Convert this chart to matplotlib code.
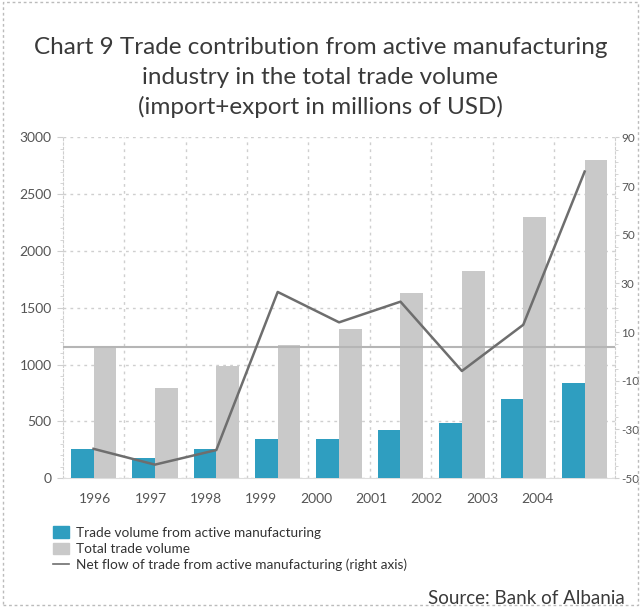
import numpy as np
import matplotlib
matplotlib.use("Agg")
import matplotlib.pyplot as plt
from matplotlib.lines import Line2D
from matplotlib.patches import Patch, Rectangle

years = ["1996", "1997", "1998", "1999", "2000", "2001", "2002", "2003", "2004"]
manufacturing = [260, 175, 260, 345, 345, 425, 485, 695, 840]
total_trade = [1160, 795, 990, 1175, 1315, 1630, 1825, 2300, 2800]
net_flow = [-38, -44.5, -38.5, 26.5, 14, 22.5, -6, 13, 76]

left_ticks = [0, 500, 1000, 1500, 2000, 2500, 3000]
right_ticks = [-50, -30, -10, 10, 30, 50, 70, 90]
ref_level = 4

BLUE = "#2F9EC0"
GREY_BAR = "#C9C9C9"
LINE = "#6E6E6E"
GRID = "#CFCFCF"
TEXT = "#555555"

plt.rcParams["font.family"] = ["Lato", "DejaVu Sans"]
plt.rcParams["axes.unicode_minus"] = False

fig = plt.figure(figsize=(6.41, 6.07), dpi=100)
fig.patches.append(Rectangle((0.004, 0.004), 0.992, 0.992, transform=fig.transFigure,
                             fill=False, ec="#BBBBBB", lw=1, ls=(0, (2, 2))))

ax = fig.add_axes([0.098, 0.2125, 0.862, 0.561])
x = np.arange(len(years))
w = 0.37

ax.bar(x - w / 2, manufacturing, w, color=BLUE, zorder=3)
ax.bar(x + w / 2, total_trade, w, color=GREY_BAR, zorder=3)

ax.set_xlim(-0.5, len(years) - 0.5)
ax.set_ylim(0, 3000)
ax.set_yticks(left_ticks)
ax.set_yticks(np.arange(0, 3001, 100), minor=True)
ax.set_xticks(np.arange(0.5, len(years) - 0.5), minor=True)
ax.set_xticks([])
ax.grid(True, which="major", axis="y", color=GRID, ls=(0, (2, 3)), lw=1, zorder=0)
ax.grid(True, which="minor", axis="x", color=GRID, ls=(0, (2, 3)), lw=1, zorder=0)
ax.tick_params(axis="y", which="major", length=4, color=GRID, labelsize=10, labelcolor=TEXT, pad=4)
ax.tick_params(axis="y", which="minor", length=2, color=GRID)
ax.tick_params(axis="x", which="both", length=0)
for side in ["top", "right"]:
    ax.spines[side].set_visible(False)
ax.spines["left"].set_color(GRID)
ax.spines["left"].set_linestyle((0, (2, 2)))
ax.spines["bottom"].set_color("#DDDDDD")

# year labels run on a slightly tighter pitch than the bar groups
for i, yr in enumerate(years):
    ax.text(i * 0.9 + 0.03, -0.045, yr, transform=ax.get_xaxis_transform(),
            ha="center", va="top", fontsize=10, color=TEXT)

ax2 = ax.twinx()
ax2.set_ylim(-50, 90)
ax2.set_yticks(right_ticks)
ax2.set_yticks(np.arange(-50, 91, 5), minor=True)
ax2.axhline(ref_level, color="#B5B5B5", lw=1.5, zorder=2)
ax2.plot(x, net_flow, color=LINE, lw=1.8, zorder=4)
ax2.tick_params(axis="y", which="major", length=3, color=GRID, labelsize=8.5, labelcolor=TEXT, pad=1)
ax2.tick_params(axis="y", which="minor", length=2, color=GRID)
for side in ["top", "left", "bottom"]:
    ax2.spines[side].set_visible(False)
ax2.spines["right"].set_color(GRID)
ax2.spines["right"].set_linestyle((0, (2, 2)))

title_lines = ["Chart 9 Trade contribution from active manufacturing",
               "industry in the total trade volume",
               "(import+export in millions of USD)"]
for k, line in enumerate(title_lines):
    fig.text(0.5, 0.922 - k * 0.049, line, ha="center", va="center",
             fontsize=17.5, color="#3A3A3A")

handles = [Patch(color=BLUE), Patch(color=GREY_BAR), Line2D([], [], color=LINE, lw=1.2)]
labels = ["Trade volume from active manufacturing", "Total trade volume",
          "Net flow of trade from active manufacturing (right axis)"]
fig.legend(handles, labels, loc="upper left", bbox_to_anchor=(0.072, 0.144),
           frameon=False, fontsize=9.8, labelcolor="#333333", handlelength=1.2,
           handleheight=0.9, handletextpad=0.5, labelspacing=0.28, borderpad=0)

fig.text(0.668, 0.0, "Source: Bank of Albania", ha="left", va="bottom",
         fontsize=13.5, color="#3A3A3A")

fig.savefig("out.png", dpi=100)
